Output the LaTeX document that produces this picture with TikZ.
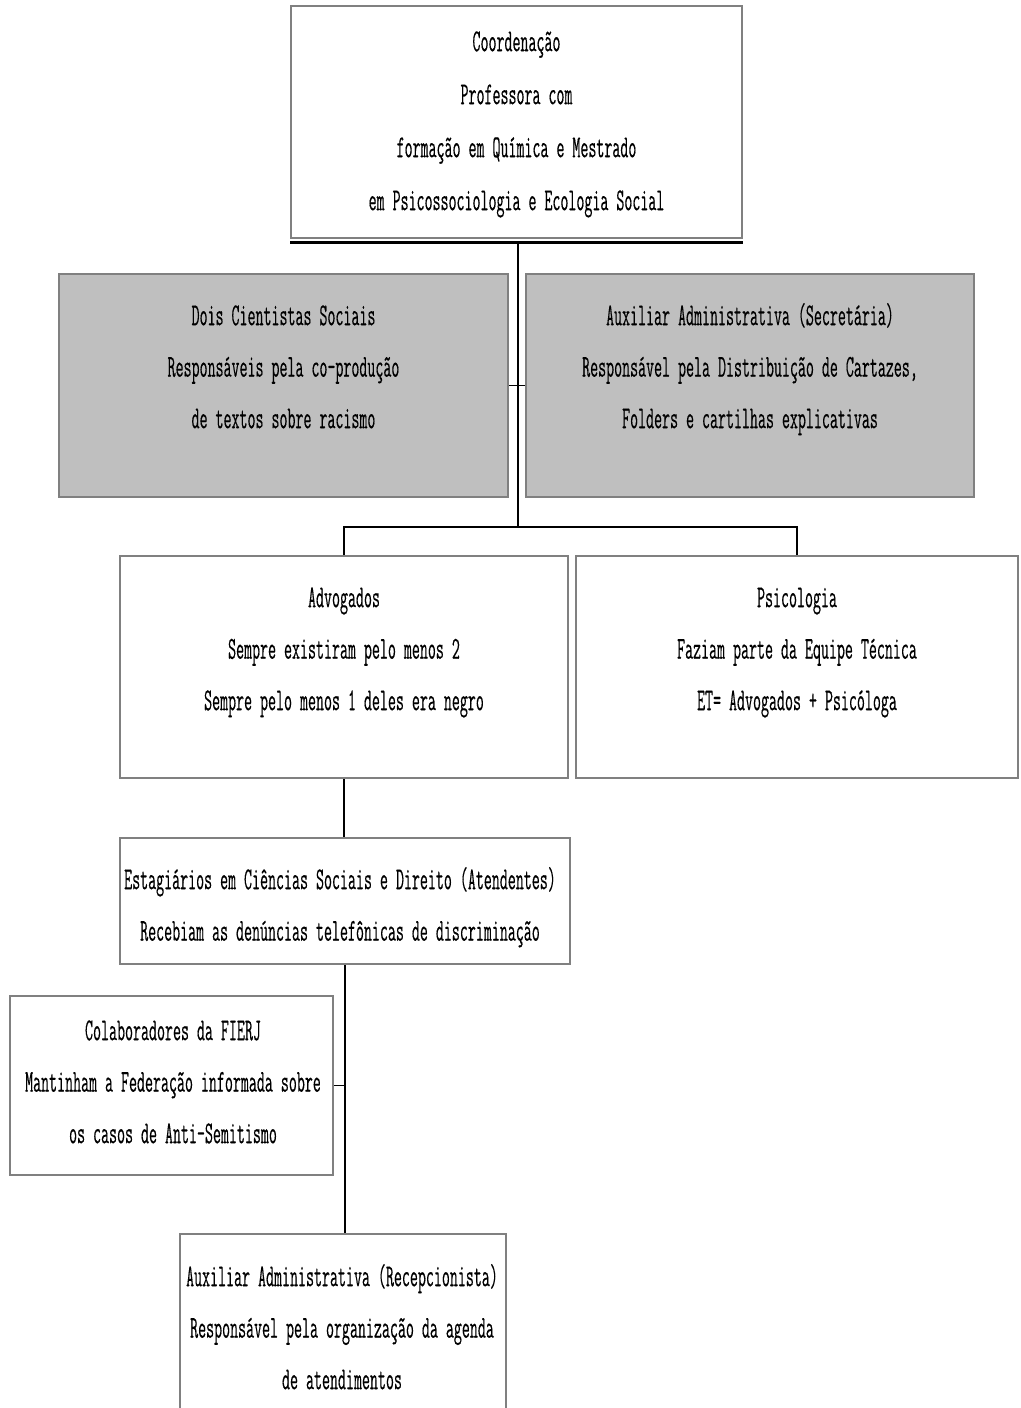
\documentclass[tikz,border=0pt]{standalone}
\usepackage{fontspec}
\newfontfamily\cf[FakeStretch=0.485,FakeBold=0.3]{Latin Modern Mono}
\begin{document}
\begin{tikzpicture}[x=1pt,y=-1pt,
  box/.style={draw=black!50,line width=2pt,inner sep=0pt,minimum width=#1},
  graybox/.style={box=#1,fill=black!25},
  txt/.style={anchor=north,align=center,inner sep=0pt,font=\cf\fontsize{32}{51.5}\selectfont},
  conn/.style={draw=black,line width=2pt}]
\useasboundingbox (0,0) rectangle (1020,1408);
\clip (0,0) rectangle (1020,1408);
\fill[white] (0,0) rectangle (1020,1408);
% boxes
\node[box=451pt,minimum height=232pt] (top) at (516.5,122) {};
\node[graybox=449pt,minimum height=223pt] (g1) at (283.5,385.5) {};
\node[graybox=448pt,minimum height=223pt] (g2) at (750,385.5) {};
\node[box=448pt,minimum height=222pt] (adv) at (344,667) {};
\node[box=442pt,minimum height=222pt] (psi) at (797,667) {};
\node[box=450pt,minimum height=126pt] (est) at (345,901) {};
\node[box=323pt,minimum height=179pt] (fie) at (171.5,1085.5) {};
\node[box=326pt,minimum height=200pt] (aux) at (343,1334) {};
% thick bar under the top box
\draw[line width=3pt] ([yshift=-3pt]top.south west) -- ([yshift=-3pt]top.south east);
% connectors
\coordinate (j1) at (518,527);
\draw[conn] ([yshift=-3pt]top.south -| j1) -- (j1);
\draw[conn,line width=1.6pt] (g1.east) -- (g2.west);
\draw[conn] (adv.north) |- (j1) -| (psi.north);
\draw[conn] (adv.south) -- (adv.south |- est.north);
\draw[conn] (est.south) -- (est.south |- aux.north);
\draw[conn,line width=1.6pt] (fie.east) -- (fie.east -| est.south);
% texts
\node[txt] (ttop) at (516.5,26) {\rule{0pt}{25pt}Coordenação\\[1.5pt]Professora com\\[1.5pt]formação em Química e Mestrado\\[1.5pt]em Psicossociologia e Ecologia Social};
\node[txt] (tg1) at (283.5,300) {\rule{0pt}{25pt}Dois Cientistas Sociais\\Responsáveis pela co-produção\\de textos sobre racismo};
\node[txt] (tg2) at (750,300) {\rule{0pt}{25pt}Auxiliar Administrativa (Secretária)\\Responsável pela Distribuição de Cartazes,\\Folders e cartilhas explicativas};
\node[txt] (tadv) at (344,582) {\rule{0pt}{25pt}Advogados\\Sempre existiram pelo menos 2\\Sempre pelo menos 1 deles era negro};
\node[txt] (tpsi) at (797,582) {\rule{0pt}{25pt}Psicologia\\Faziam parte da Equipe Técnica\\ET= Advogados + Psicóloga};
\node[txt] (test) at (340,864) {\rule{0pt}{25pt}Estagiários em Ciências Sociais e Direito (Atendentes)\\Recebiam as denúncias telefônicas de discriminação};
\node[txt] (tfie) at (173,1015) {\rule{0pt}{25pt}Colaboradores da FIERJ\\Mantinham a Federação informada sobre\\os casos de Anti-Semitismo};
\node[txt] (taux) at (342,1261) {\rule{0pt}{25pt}Auxiliar Administrativa (Recepcionista)\\Responsável pela organização da agenda\\de atendimentos};
\end{tikzpicture}
\end{document}
